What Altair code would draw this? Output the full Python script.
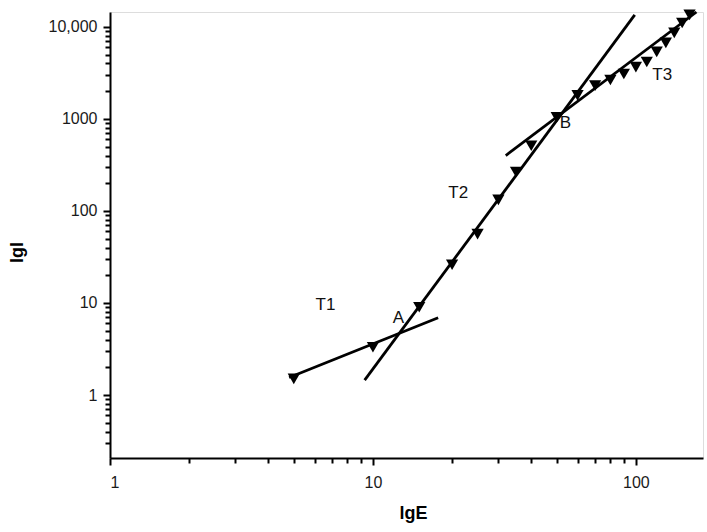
import altair as alt
import pandas as pd

# measured points (triangles)
E = [5, 10, 15, 20, 25, 30, 35, 40, 50, 60, 70, 80, 90, 100, 110, 120, 130, 140, 150, 160]
I = [1.5, 3.3, 9, 26, 56, 132, 265, 510, 1040, 1800, 2300, 2650, 3080, 3650, 4150, 5350, 6700, 8600, 11000, 13500]

# fitted line segments
seg_names = ["T1", "T2", "T3"]
seg_x1 = [4.8, 9.3, 32]
seg_y1 = [1.55, 1.45, 400]
seg_x2 = [17.7, 99, 170]
seg_y2 = [6.9, 13500, 14500]

# annotation labels
lab_text = ["T1", "T2", "T3", "A", "B"]
lab_x = [6.6, 21.1, 126, 12.5, 54]
lab_y = [9.5, 157, 3000, 6.9, 905]

x_ticks = [1, 2, 3, 4, 5, 6, 7, 8, 9, 10, 20, 30, 40, 50, 60, 70, 80, 90, 100]
y_ticks = [0.3, 0.4, 0.5, 0.6, 0.7, 0.8, 0.9, 1, 2, 3, 4, 5, 6, 7, 8, 9, 10,
           20, 30, 40, 50, 60, 70, 80, 90, 100, 200, 300, 400, 500, 600, 700, 800, 900, 1000,
           2000, 3000, 4000, 5000, 6000, 7000, 8000, 9000, 10000]

pts = pd.DataFrame({"E": E, "I": I})
segs = pd.DataFrame({"name": seg_names, "x1": seg_x1, "y1": seg_y1, "x2": seg_x2, "y2": seg_y2})
labs = pd.DataFrame({"t": lab_text, "x": lab_x, "y": lab_y})

major_test = "indexof([1,10,100,1000,10000], datum.value) >= 0"
label_expr = (f"datum.value == 10000 ? '10,000' : ({major_test} ? format(datum.value, 'd') : '')")

xscale = alt.Scale(type="log", domain=[1, 180], nice=False)
yscale = alt.Scale(type="log", domain=[0.207, 14500], nice=False)

xaxis = alt.Axis(
    title="lgE", values=x_ticks, labelExpr=label_expr,
    labelOverlap=False, grid=False, domainColor="black", domainWidth=2, tickColor="black",
    tickWidth=2, tickSize={"condition": {"test": major_test, "value": 7}, "value": 5},
    labelFont="Liberation Sans", labelFontSize=16, labelColor="#1a1a1a", labelPadding=9,
    titleFont="Liberation Sans", titleFontSize=18, titleFontWeight="bold", titleColor="black",
    titlePadding=14, titleX=303,
)
yaxis = alt.Axis(
    title="lgI", values=y_ticks, labelExpr=label_expr,
    labelOverlap=False, grid=False, domainColor="black", domainWidth=2, tickColor="black",
    tickWidth=2, tickSize={"condition": {"test": major_test, "value": 7}, "value": 5},
    labelFont="Liberation Sans", labelFontSize=16, labelColor="#1a1a1a", labelPadding=6,
    titleFont="Liberation Sans", titleFontSize=18, titleFontWeight="bold", titleColor="black",
    titleX=-84, titleY=240,
)

lines = alt.Chart(segs).mark_rule(color="black", strokeWidth=2.8).encode(
    x=alt.X("x1:Q", scale=xscale, axis=xaxis),
    y=alt.Y("y1:Q", scale=yscale, axis=yaxis),
    x2="x2:Q", y2="y2:Q",
)

points = alt.Chart(pts).mark_point(shape="triangle-down", filled=True, color="black",
                                   opacity=1, size=150).encode(
    x=alt.X("E:Q", scale=xscale),
    y=alt.Y("I:Q", scale=yscale),
)

texts = alt.Chart(labs).mark_text(font="Liberation Sans", fontSize=17, color="#111").encode(
    x=alt.X("x:Q", scale=xscale),
    y=alt.Y("y:Q", scale=yscale),
    text="t:N",
)

chart = alt.layer(lines, points, texts).properties(
    width=593, height=446,
    padding={"left": 110, "top": 12, "right": 4, "bottom": 74},
    autosize=alt.AutoSizeParams(type="none"),
).configure_view(stroke=None).configure(background="white")

chart.save("out.html", embed_options={"renderer": "svg", "actions": False})
